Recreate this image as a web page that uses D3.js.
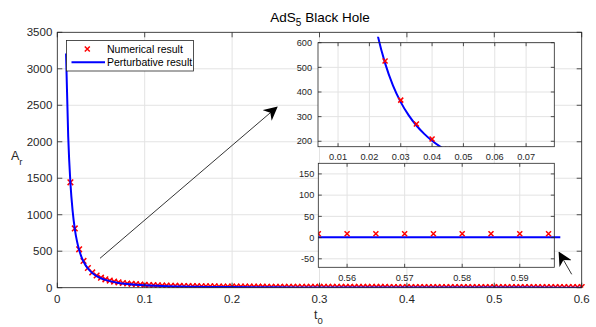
<!DOCTYPE html>
<html><head><meta charset="utf-8">
<script src="https://cdn.jsdelivr.net/npm/d3@7"></script>
<style>body{margin:0;background:#fff}svg{display:block;font-family:"Liberation Sans",Arial,Helvetica,sans-serif}</style>
</head><body><svg id="c" width="596" height="327"></svg>
<script>
// ---- data ----
const numT = [0.015,0.02,0.025,0.03,0.035,0.04,0.045,0.05,0.055,0.06,0.065,0.07,0.075,0.08,0.085,0.09,0.095,0.1,
 0.105,0.11,0.115,0.12,0.125,0.13,0.135,0.14,0.145,0.15,0.155,0.16,0.165,0.17,0.175,0.18,0.185,0.19,0.195,0.2,
 0.205,0.21,0.215,0.22,0.225,0.23,0.235,0.24,0.245,0.25,0.255,0.26,0.265,0.27,0.275,0.28,0.285,0.29,0.295,0.3,
 0.305,0.31,0.315,0.32,0.325,0.33,0.335,0.34,0.345,0.35,0.355,0.36,0.365,0.37,0.375,0.38,0.385,0.39,0.395,0.4,
 0.405,0.41,0.415,0.42,0.425,0.43,0.435,0.44,0.445,0.45,0.455,0.46,0.465,0.47,0.475,0.48,0.485,0.49,0.495,0.5,
 0.505,0.51,0.515,0.52,0.525,0.53,0.535,0.54,0.545,0.55,0.555,0.56,0.565,0.57,0.575,0.58,0.585,0.59,0.595,0.6];
const numA = [1444,812,526,367,270,209,167,137,115,98,84,74,65,58,53,48,44,40,
 37,35,32,30,29,27,26,24,23,22,21,21,20,19,18,18,17,17,16,16,
 15.7,15.3,15.0,14.7,14.4,14.1,13.8,13.6,13.4,13.2,13.0,12.8,12.6,12.4,12.3,12.1,12.0,11.8,11.7,11.6,
 11.5,11.4,11.3,11.2,11.1,11.0,10.9,10.8,10.7,10.6,10.6,10.5,10.4,10.4,10.3,10.2,10.2,10.1,10.1,10.0,
 10.0,9.9,9.9,9.8,9.8,9.7,9.7,9.7,9.6,9.6,9.6,9.5,9.5,9.5,9.4,9.4,9.4,9.3,9.3,9.3,
 9.3,9.2,9.2,9.2,9.2,9.1,9.1,9.1,9.1,9.1,9.0,9.0,9.0,9.0,9.0,9.0,8.9,8.9,8.9,8.9];
const pertT = [0.01,0.0125,0.015,0.0175,0.02,0.0225,0.025,0.0275,0.03,0.0325,0.035,0.0375,0.04,0.045,0.05,0.055,0.06,0.07,0.08,0.09,0.1,
 0.12,0.14,0.16,0.18,0.2,0.25,0.3,0.35,0.4,0.45,0.5,0.55,0.6];
const pertA = [3210,2067,1436,1055,807,638,517,427,359,306,264,230,202,159.5,129.2,106.8,89.7,65.9,50.5,39.9,32.3,
 22.4,16.5,12.6,10.0,8.1,5.2,3.6,2.6,2.0,1.6,1.3,1.1,0.9];
const mainXTicks = [0,0.1,0.2,0.3,0.4,0.5,0.6];
const mainYTicks = [0,500,1000,1500,2000,2500,3000,3500];
const in1XTicks = [0.01,0.02,0.03,0.04,0.05,0.06,0.07];
const in1YTicks = [200,300,400,500,600];
const in2XTicks = [0.56,0.57,0.58,0.59];
const in2YTicks = [-50,0,50,100,150];
const seriesNames = ["Numerical result","Perturbative result"];
const titleText = "AdS";

// ---- drawing ----
const svg = d3.select("#c");
const AX = "#262626", GRID = "#e3e3e3", TXT = "#262626";
const num = numT.map((t,i)=>({t, a:numA[i]}));
const pert = pertT.map((t,i)=>({t, a:pertA[i]}));
let clipId = 0;

function panel(xDom, xR, yDom, yR, xt, yt, fs, fmtX, fmtY, tickLen, lineOnTop, markerSize, yGap){
  const x = d3.scaleLinear(xDom, xR), y = d3.scaleLinear(yDom, yR);
  const g = svg.append("g");
  g.append("rect").attr("x",xR[0]).attr("y",yR[1]).attr("width",xR[1]-xR[0]).attr("height",yR[0]-yR[1]).attr("fill","#fff");
  g.append("g").selectAll("line").data(xt).join("line")
    .attr("x1",d=>x(d)).attr("x2",d=>x(d)).attr("y1",yR[0]).attr("y2",yR[1]).attr("stroke",GRID).attr("stroke-width",1);
  g.append("g").selectAll("line").data(yt).join("line")
    .attr("y1",d=>y(d)).attr("y2",d=>y(d)).attr("x1",xR[0]).attr("x2",xR[1]).attr("stroke",GRID).attr("stroke-width",1);
  const id = "clip"+(clipId++);
  g.append("clipPath").attr("id",id).append("rect").attr("x",xR[0]).attr("y",yR[1]-6).attr("width",xR[1]-xR[0]+6).attr("height",yR[0]-yR[1]+6);
  const d = g.append("g").attr("clip-path",`url(#${id})`);
  const drawLine = () => d.append("path").datum(pert)
      .attr("d", d3.line().x(p=>x(p.t)).y(p=>y(p.a)).curve(d3.curveMonotoneX))
      .attr("fill","none").attr("stroke","#0000ff").attr("stroke-width",2);
  const drawMarkers = () => {
    const s = markerSize;
    d.append("g").selectAll("path").data(num.filter(p=>p.t>=xDom[0]-1e-9 && p.t<=xDom[1]+1e-9)).join("path")
      .attr("d", p=>{const cx=x(p.t), cy=y(p.a); return `M${cx-s},${cy-s}L${cx+s},${cy+s}M${cx-s},${cy+s}L${cx+s},${cy-s}`;})
      .attr("stroke","#ff0000").attr("stroke-width",1.5).attr("fill","none");
  };
  if(lineOnTop){ drawMarkers(); drawLine(); } else { drawLine(); drawMarkers(); }
  g.append("rect").attr("x",xR[0]).attr("y",yR[1]).attr("width",xR[1]-xR[0]).attr("height",yR[0]-yR[1])
    .attr("fill","none").attr("stroke",AX).attr("stroke-width",0.8);
  const tk = g.append("g").attr("stroke",AX).attr("stroke-width",0.8);
  xt.forEach(v=>{
    tk.append("line").attr("x1",x(v)).attr("x2",x(v)).attr("y1",yR[0]).attr("y2",yR[0]-tickLen);
    tk.append("line").attr("x1",x(v)).attr("x2",x(v)).attr("y1",yR[1]).attr("y2",yR[1]+tickLen);
  });
  yt.forEach(v=>{
    tk.append("line").attr("y1",y(v)).attr("y2",y(v)).attr("x1",xR[0]).attr("x2",xR[0]+tickLen);
    tk.append("line").attr("y1",y(v)).attr("y2",y(v)).attr("x1",xR[1]).attr("x2",xR[1]-tickLen);
  });
  g.append("g").selectAll("text").data(xt).join("text")
    .attr("x",d=>x(d)).attr("y",yR[0]+fs+4).attr("text-anchor","middle").attr("font-size",fs).attr("fill",TXT).text(fmtX);
  g.append("g").selectAll("text").data(yt).join("text")
    .attr("x",xR[0]-yGap).attr("y",d=>y(d)).attr("dy","0.35em").attr("text-anchor","end").attr("font-size",fs).attr("fill",TXT).text(fmtY);
  return {x,y,g};
}

// main axes
panel([0,0.6],[57.3,581.7],[0,3500],[287.7,32.3], mainXTicks, mainYTicks, 11.5,
  d=>d===0?"0":String(d), d=>String(d), 5, true, 2.8, 5);

// arrows
const defs = svg.append("defs");
defs.append("marker").attr("id","ah").attr("viewBox","0 0 10 10").attr("refX",9).attr("refY",5)
  .attr("markerWidth",14).attr("markerHeight",14).attr("markerUnits","userSpaceOnUse").attr("orient","auto")
  .append("path").attr("d","M0,0L10,5L0,10L3,5Z").attr("fill","#000");
svg.append("line").attr("x1",100).attr("y1",258.3).attr("x2",276.7).attr("y2",107.3)
  .attr("stroke","#000").attr("stroke-width",0.8).attr("marker-end","url(#ah)");
svg.append("line").attr("x1",571.7).attr("y1",274.3).attr("x2",559.3).attr("y2",252.7)
  .attr("stroke","#000").attr("stroke-width",0.8).attr("marker-end","url(#ah)");

// legend
const lg = svg.append("g");
lg.append("rect").attr("x",66.5).attr("y",40.5).attr("width",127).attr("height",30.5).attr("fill","#fff").attr("stroke",AX).attr("stroke-width",0.8);
const ms=2.5, mx=87.3, my=49;
lg.append("path").attr("d",`M${mx-ms},${my-ms}L${mx+ms},${my+ms}M${mx-ms},${my+ms}L${mx+ms},${my-ms}`).attr("stroke","#ff0000").attr("stroke-width",1.5);
lg.append("line").attr("x1",71.5).attr("x2",105).attr("y1",62.3).attr("y2",62.3).attr("stroke","#0000ff").attr("stroke-width",2);
lg.append("text").attr("x",107).attr("y",53).attr("font-size",10.5).attr("fill","#000").text(seriesNames[0]);
lg.append("text").attr("x",107).attr("y",66).attr("font-size",10.5).attr("fill","#000").text(seriesNames[1]);

// inset 1
panel([0.0036,0.079],[318,554.3],[178,600],[146.7,42.7], in1XTicks, in1YTicks, 9.2,
  d=>d3.format(".2f")(d), d=>String(d), 3.5, false, 2.5, 6);
// inset 2
panel([0.555,0.596],[318.3,554.3],[-70,175],[267.3,163.3], in2XTicks, in2YTicks, 9.2,
  d=>d3.format(".2f")(d), d=>String(d), 3.5, false, 2.5, 4);

// title
const tt = svg.append("text").attr("x",320).attr("y",22).attr("text-anchor","middle").attr("font-size",13.5).attr("fill","#000");
tt.append("tspan").text(titleText);
tt.append("tspan").attr("font-size",10).attr("dy",4).text("5");
tt.append("tspan").attr("dy",-4).text(" Black Hole");
// axis labels
const yl = svg.append("text").attr("x",11).attr("y",160).attr("font-size",12.5).attr("fill",TXT);
yl.append("tspan").text("A");
yl.append("tspan").attr("font-size",9.5).attr("dy",5).text("r");
const xl = svg.append("text").attr("x",314).attr("y",319).attr("font-size",12.5).attr("fill",TXT);
xl.append("tspan").text("t");
xl.append("tspan").attr("font-size",9.5).attr("dy",5).text("0");
</script></body></html>
